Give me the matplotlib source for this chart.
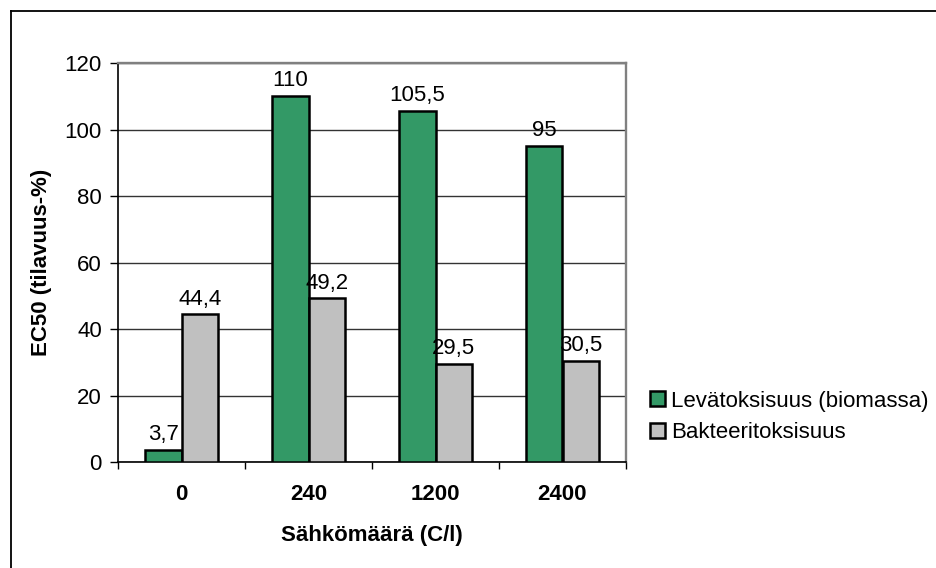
import matplotlib
matplotlib.use("Agg")
import matplotlib.pyplot as plt
import numpy as np

categories = ["0", "240", "1200", "2400"]
algae = [3.7, 110, 105.5, 95]
bacteria = [44.4, 49.2, 29.5, 30.5]
series_names = ["Levätoksisuus (biomassa)", "Bakteeritoksisuus"]
yticks = [0, 20, 40, 60, 80, 100, 120]

plt.rcParams["font.family"] = ["Liberation Sans", "DejaVu Sans"]
FS = 16

fig = plt.figure(figsize=(9.36, 5.68), dpi=100)
ax = fig.add_axes([118 / 936, 1 - 462 / 568, (626 - 118) / 936, (462 - 63) / 568])

# outer frame (left and top edges visible)
fig.add_artist(plt.Line2D([11 / 936, 11 / 936], [0, 1 - 11 / 568], color="black", lw=1.3,
                          transform=fig.transFigure))
fig.add_artist(plt.Line2D([11 / 936, 1], [1 - 11 / 568, 1 - 11 / 568], color="black", lw=1.3,
                          transform=fig.transFigure))

x = np.arange(len(categories))
w = 0.287
b1 = ax.bar(x - w, algae, w, align="edge", color="#339966", edgecolor="black", lw=1.8,
            label=series_names[0], zorder=3)
b2 = ax.bar(x, bacteria, w, align="edge", color="#C0C0C0", edgecolor="black", lw=1.8,
            label=series_names[1], zorder=3)


def fmt(v):
    return f"{v:g}".replace(".", ",")


for rect, v in list(zip(b1, algae)) + list(zip(b2, bacteria)):
    ax.annotate(fmt(v), (rect.get_x() + rect.get_width() / 2, v), xytext=(0, 3.5),
                textcoords="offset points", ha="center", va="bottom", fontsize=FS,
                annotation_clip=False)

ax.set_xlim(-0.5, len(categories) - 0.5)
ax.set_ylim(0, 120)
ax.set_yticks(yticks)
ax.set_yticklabels([str(t) for t in yticks], fontsize=FS)
ax.yaxis.grid(True, color="#333333", lw=1, zorder=0)
ax.set_axisbelow(True)

# category boundaries carry the tick marks, category centres carry the labels
ax.set_xticks(np.arange(len(categories) + 1) - 0.5)
ax.set_xticklabels([])
ax.tick_params(axis="x", which="major", length=5, width=1, color="black", direction="out")
ax.set_xticks(x, minor=True)
ax.set_xticklabels(categories, minor=True, fontsize=FS, fontweight="bold")
ax.tick_params(axis="x", which="minor", length=0, pad=16)
ax.tick_params(axis="y", length=5.8, width=1, color="black", pad=5.8)

for side in ("top", "right"):
    ax.spines[side].set_color("#808080")
    ax.spines[side].set_linewidth(1.7)
for side in ("left", "bottom"):
    ax.spines[side].set_color("black")
    ax.spines[side].set_linewidth(1.2)

ax.set_xlabel("Sähkömäärä (C/l)", fontsize=FS, fontweight="bold", labelpad=14)
ax.set_ylabel("EC50 (tilavuus-%)", fontsize=FS, fontweight="bold", labelpad=9)

fs_px = FS * 100 / 72
leg = fig.legend(handles=[b1, b2], labels=series_names, loc="center left",
                 bbox_to_anchor=(650 / 936, 1 - 417 / 568), frameon=False, fontsize=FS,
                 handlelength=15 / fs_px, handleheight=15 / fs_px,
                 handletextpad=6 / fs_px, labelspacing=(33 - fs_px) / fs_px,
                 borderaxespad=0, borderpad=0)

fig.savefig("out.png", dpi=100, facecolor="white")
